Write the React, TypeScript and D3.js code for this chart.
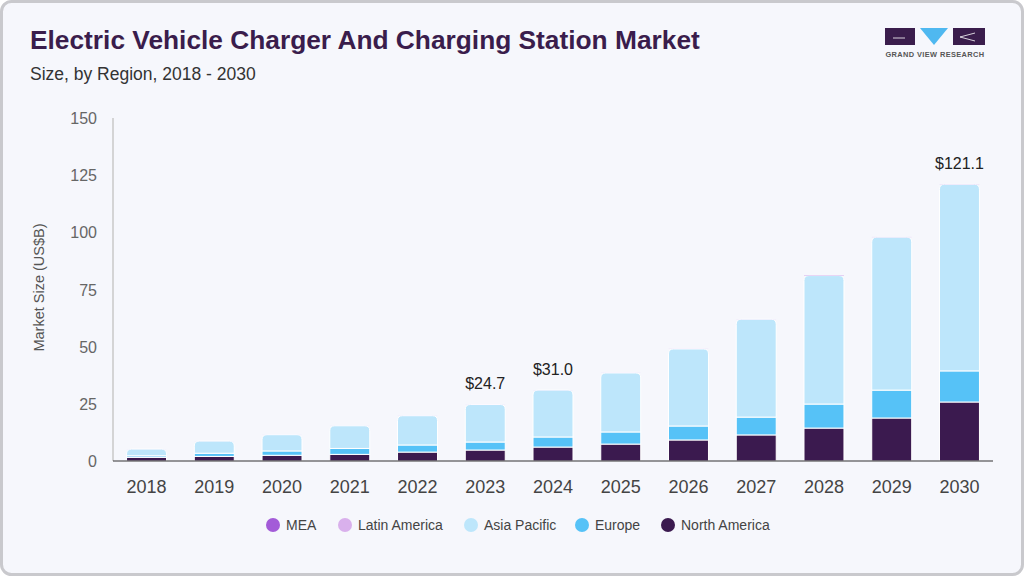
import React from 'react';
import * as d3 from 'd3';

const years = ['2018', '2019', '2020', '2021', '2022', '2023', '2024', '2025', '2026', '2027', '2028', '2029', '2030'];
const northAmerica = [1.6, 2.0, 2.5, 2.9, 3.9, 4.8, 6.1, 7.4, 9.2, 11.4, 14.4, 18.8, 25.8];
const europe = [0.7, 1.4, 1.9, 2.6, 3.1, 3.5, 4.4, 5.3, 6.1, 7.8, 10.5, 12.2, 13.6];
const asiaPacific = [2.9, 5.3, 7.1, 9.9, 12.8, 16.4, 20.5, 25.8, 33.7, 42.8, 56.2, 66.9, 81.6];
const latinAmerica = [0.01, 0.01, 0.01, 0.01, 0.02, 0.02, 0.02, 0.02, 0.03, 0.03, 0.15, 0.05, 0.05];
const mea = [0.01, 0.01, 0.01, 0.01, 0.01, 0.01, 0.01, 0.01, 0.01, 0.01, 0.05, 0.02, 0.02];
const yTicks = [0, 25, 50, 75, 100, 125, 150];
const totalLabels: Record<string, string> = { '2023': '$24.7', '2024': '$31.0', '2030': '$121.1' };

const seriesKeys = ['North America', 'Europe', 'Asia Pacific', 'Latin America', 'MEA'];
const seriesValues = [northAmerica, europe, asiaPacific, latinAmerica, mea];
const colors: Record<string, string> = {
  'North America': '#3b1a4f',
  Europe: '#56c2f7',
  'Asia Pacific': '#bde6fb',
  'Latin America': '#d9b0ec',
  MEA: '#a35bd8',
};
const legendOrder = ['MEA', 'Latin America', 'Asia Pacific', 'Europe', 'North America'];
const legendX = [266, 338, 464, 575, 661];

const W = 1024;
const H = 576;
const margin = { left: 113, right: 993, top: 118, bottom: 461 };

const App: React.FC = () => {
  const rows = years.map((y, i) => {
    const r: Record<string, any> = { year: y };
    seriesKeys.forEach((k, j) => (r[k] = seriesValues[j][i]));
    return r;
  });
  const stack = d3.stack<any>().keys(seriesKeys)(rows);

  const x = d3.scaleBand().domain(years).range([margin.left, margin.right]).paddingInner(0.41).paddingOuter(0.2);
  const y = d3.scaleLinear().domain([0, 150]).range([margin.bottom, margin.top]);
  const bw = x.bandwidth();

  const roundedTop = (x0: number, y0: number, w: number, h: number, r: number) => {
    const rr = Math.min(r, h, w / 2);
    const p = d3.path();
    p.moveTo(x0, y0 + h);
    p.lineTo(x0, y0 + rr);
    p.quadraticCurveTo(x0, y0, x0 + rr, y0);
    p.lineTo(x0 + w - rr, y0);
    p.quadraticCurveTo(x0 + w, y0, x0 + w, y0 + rr);
    p.lineTo(x0 + w, y0 + h);
    p.closePath();
    return p.toString();
  };

  const font = 'Liberation Sans, Arial, sans-serif';

  return (
    <svg width={W} height={H} style={{ position: 'absolute', left: 0, top: 0 }} fontFamily={font}>
      <rect x={1.5} y={1.5} width={W - 3} height={H - 3} rx={10} fill="#f6f7fc" stroke="#c9c9cd" strokeWidth={3} />

      <text x={30} y={49} fontSize={26.3} fontWeight="bold" fill="#3a1d4c">
        Electric Vehicle Charger And Charging Station Market
      </text>
      <text x={30} y={80} fontSize={17.5} fill="#333">
        Size, by Region, 2018 - 2030
      </text>

      {/* logo */}
      <g>
        <rect x={885} y={28} width={30} height={17} fill="#3a1d4c" />
        <path d="M920,28 L948,28 L934,45 Z" fill="#4fb8f0" />
        <rect x={953} y={28} width={32} height={17} fill="#3a1d4c" />
        <path d="M893,38 L905,38 M960,37 L975,33 M960,37 L975,41" stroke="#fff" strokeWidth={0.8} fill="none" />
        <text x={935} y={57} fontSize={7.4} fontWeight="bold" fill="#555" textAnchor="middle" letterSpacing={0.4}>
          GRAND VIEW RESEARCH
        </text>
      </g>

      {/* y axis */}
      <line x1={margin.left} x2={margin.left} y1={margin.top} y2={margin.bottom} stroke="#c8c8c8" strokeWidth={1.5} />
      {yTicks.map((t) => (
        <text key={t} x={97} y={y(t) + 6} fontSize={16} fill="#666" textAnchor="end">
          {t}
        </text>
      ))}
      <text
        transform={`translate(44, ${(margin.top + margin.bottom) / 2 - 2}) rotate(-90)`}
        fontSize={14.5}
        fill="#555"
        textAnchor="middle"
      >
        Market Size (US$B)
      </text>

      {/* bars */}
      {stack.map((s) =>
        s.map((d, i) => {
          const yr = years[i];
          const x0 = x(yr)!;
          const y0 = y(d[1]);
          const h = y(d[0]) - y(d[1]);
          const fill = colors[s.key];
          if (s.key === 'Asia Pacific') {
            return <path key={s.key + yr} d={roundedTop(x0, y0, bw, h, 5)} fill={fill} stroke="#fff" strokeWidth={1} />;
          }
          return (
            <rect
              key={s.key + yr}
              x={x0}
              y={y0}
              width={bw}
              height={h}
              fill={fill}
              stroke="#fff"
              strokeWidth={s.key === 'North America' || s.key === 'Europe' ? 1 : 0}
            />
          );
        })
      )}

      <line x1={margin.left} x2={margin.right} y1={margin.bottom} y2={margin.bottom} stroke="#333" strokeWidth={1.2} />

      {years.map((yr) => (
        <text key={yr} x={x(yr)! + bw / 2} y={493} fontSize={18} fill="#444" textAnchor="middle">
          {yr}
        </text>
      ))}

      {years.map((yr, i) => {
        const lbl = totalLabels[yr];
        if (!lbl) return null;
        const total = seriesValues.reduce((a, v) => a + v[i], 0);
        return (
          <text key={'t' + yr} x={x(yr)! + bw / 2} y={y(total) - 15} fontSize={16} fill="#222" textAnchor="middle">
            {lbl}
          </text>
        );
      })}

      {/* legend */}
      {legendOrder.map((k, i) => (
        <g key={k} transform={`translate(${legendX[i]}, 525)`}>
          <circle cx={7} cy={0} r={7} fill={colors[k]} />
          <text x={20} y={5} fontSize={14} fill="#444">
            {k}
          </text>
        </g>
      ))}
    </svg>
  );
};

export default App;
